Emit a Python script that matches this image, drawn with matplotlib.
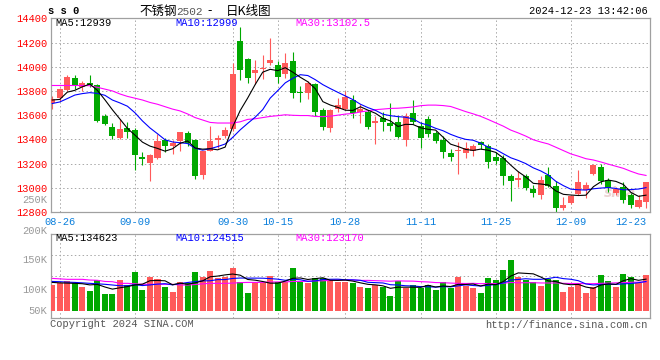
"""SS0 stainless steel 2502 daily K-line chart (Sina style): candles + MA, volume panel."""
import numpy as np
import pandas as pd
import matplotlib
matplotlib.use("Agg")
import matplotlib.pyplot as plt

W, H = 660, 360
MONO = "Liberation Mono"
CJK = ["Noto Sans CJK SC", "DejaVu Sans"]

C_UP = "#FF5A5A"
C_DN = "#00A800"
C_MA5 = "#000000"
C_MA10 = "#0000FF"
C_MA30 = "#FF00FF"
C_GRID = "#A8A8A8"
C_BOX = "#A0A0A0"

# trading days 2024-08-23 .. 2024-12-23, exchange holidays removed
HOLIDAYS = ["2024-09-16", "2024-09-17", "2024-10-01", "2024-10-02",
            "2024-10-03", "2024-10-04", "2024-10-07"]
days = pd.bdate_range("2024-08-23", "2024-12-23")
days = days[~days.isin(pd.to_datetime(HOLIDAYS))]
DATES = [d.strftime("%m-%d") for d in days]

LABEL_DATES = ["08-26", "09-09", "09-30", "10-15", "10-28",
               "11-11", "11-25", "12-09", "12-23"]

OPEN = [13697, 13738, 13805, 13905, 13835, 13865, 13845, 13590, 13505, 13412,
        13492, 13477, 13258, 13207, 13248, 13398, 13349, 13390, 13450, 13398,
        13103, 13308, 13398, 13425, 13485, 14214, 14066, 13949, 13982, 14031,
        14017, 13936, 14045, 13794, 13780, 13854, 13644, 13491, 13650, 13650,
        13723, 13628, 13627, 13535, 13575, 13534, 13545, 13397, 13616, 13507,
        13567, 13452, 13397, 13288, 13301, 13285, 13307, 13375, 13348, 13252,
        13247, 13096, 13068, 13096, 12986, 12942, 13107, 13014, 12835, 12871,
        12945, 12980, 13117, 13171, 13068, 12953, 13008, 12939, 12844, 12885]
HIGH = [13755, 13828, 13928, 13935, 13885, 13935, 13860, 13608, 13534, 13565,
        13540, 13490, 13294, 13281, 13444, 13409, 13398, 13463, 13472, 13400,
        13308, 13507, 13439, 13504, 14031, 14326, 14072, 14053, 14099, 14236,
        14045, 14113, 14121, 13840, 13881, 13867, 13655, 13650, 13745, 13800,
        13765, 13690, 13645, 13590, 13622, 13700, 13595, 13616, 13723, 13545,
        13594, 13471, 13430, 13321, 13375, 13381, 13362, 13390, 13362, 13293,
        13270, 13115, 13142, 13115, 13025, 13100, 13170, 13060, 12925, 12940,
        13144, 13048, 13199, 13199, 13081, 13008, 13048, 12953, 12939, 13050]
LOW = [13648, 13715, 13800, 13815, 13798, 13830, 13545, 13515, 13402, 13403,
       13412, 13144, 13190, 13054, 13240, 13294, 13275, 13300, 13345, 13070,
       13076, 13300, 13327, 13409, 13470, 13889, 13862, 13854, 13900, 14017,
       13867, 13908, 13744, 13712, 13731, 13590, 13480, 13458, 13627, 13645,
       13575, 13534, 13485, 13362, 13471, 13471, 13411, 13342, 13526, 13329,
       13416, 13370, 13247, 13225, 13115, 13247, 13266, 13320, 13164, 13197,
       13019, 12888, 13005, 12984, 12923, 12910, 13005, 12800, 12814, 12865,
       12939, 12912, 13103, 13035, 12967, 12939, 12871, 12836, 12836, 12830]
CLOSE = [13735, 13812, 13912, 13845, 13866, 13850, 13550, 13525, 13430, 13485,
         13463, 13272, 13235, 13267, 13390, 13349, 13371, 13458, 13368, 13098,
         13300, 13390, 13412, 13480, 13936, 13971, 13908, 13971, 13990, 14053,
         13916, 14031, 13785, 13780, 13867, 13627, 13499, 13644, 13682, 13753,
         13616, 13650, 13505, 13553, 13545, 13507, 13422, 13594, 13545, 13411,
         13444, 13390, 13299, 13258, 13312, 13326, 13348, 13353, 13211, 13225,
         13096, 13052, 13079, 12997, 12960, 13068, 13014, 12833, 12855, 12931,
         13048, 13027, 13185, 13057, 13000, 12994, 12898, 12857, 12898, 13048]
# volume, thousand lots
VOL = [110, 120, 127, 117, 103, 85, 131, 72, 72, 131,
       110, 166, 89, 145, 136, 103, 82, 124, 120, 166,
       145, 169, 139, 145, 184, 121, 78, 124, 117, 149,
       121, 121, 184, 124, 117, 139, 139, 131, 121, 124,
       117, 103, 99, 110, 103, 65, 127, 99, 110, 99,
       110, 89, 121, 99, 145, 107, 99, 78, 141, 131,
       173, 216, 145, 131, 121, 106, 134, 131, 82, 103,
       113, 78, 103, 152, 127, 103, 157, 145, 117, 152]

# MA values at the left edge (their windows start before the first bar)
MA5_HEAD = [13725, 13730, 13790, 13805]
MA10_HEAD = [13696, 13709, 13737, 13766, 13778, 13786, 13780, 13764, 13725]
MA30_HEAD = [13845, 13845, 13845, 13845, 13845, 13843, 13830, 13815, 13800, 13775,
             13755, 13740, 13725, 13705, 13690, 13670, 13650, 13635, 13610, 13580,
             13560, 13540, 13535, 13535, 13535, 13545, 13565, 13570, 13580]
VMA5_HEAD = [121, 119, 118, 117]
VMA10_HEAD = [125, 124, 122, 121, 119, 117, 115, 113, 110]
VMA30_HEAD = [138, 136, 134, 134, 134, 131, 130, 125, 124, 117,
              117, 115, 113, 113, 113, 113, 113, 110, 110, 112,
              115, 117, 117, 117, 118, 120, 121, 121, 121]

MA_TEXT = ["MA5:12939", "MA10:12999", "MA30:13102.5"]
VMA_TEXT = ["MA5:134623", "MA10:124515", "MA30:123170"]
VOL_LABELS = ["250K", "200K", "150K", "100K", "50K"]


def moving_avg(vals, n, head):
    s = pd.Series(vals, dtype=float).rolling(n).mean()
    s.iloc[:len(head)] = head
    return s.values


def fx(px):
    return px / W


def fy(py):
    return 1 - py / H


def style_box(ax):
    for sp in ax.spines.values():
        sp.set_color(C_BOX)
        sp.set_linewidth(0.9)


def main():
    x = np.arange(len(DATES))
    o, h, l, c = (np.array(a, dtype=float) for a in (OPEN, HIGH, LOW, CLOSE))
    vol = np.array(VOL, dtype=float)
    up = c > o
    colors = np.where(up, C_UP, C_DN)
    lab_idx = [DATES.index(d) for d in LABEL_DATES]
    xlim = (-0.21, len(x) - 0.47)
    dots = (0, (1.5, 2.5))

    fig = plt.figure(figsize=(W / 100, H / 100), dpi=100, facecolor="white")
    ax = fig.add_axes([fx(50.7), fy(212), fx(599.3), 193.7 / H])
    axv = fig.add_axes([fx(50.7), fy(317.7), fx(599.3), 83.4 / H])

    # ---- price panel
    for i in lab_idx[:-1]:
        ax.axvline(i, color=C_GRID, lw=0.7, ls=dots, zorder=0)
    ax.vlines(x, l, h, colors=colors, lw=0.8, zorder=2)
    body_lo = np.minimum(o, c)
    body_h = np.maximum(np.abs(c - o), 9)
    ax.bar(x, body_h, bottom=body_lo, width=0.8, color=colors, linewidth=0, zorder=3)

    ma5 = moving_avg(c, 5, MA5_HEAD)
    ma10 = moving_avg(c, 10, MA10_HEAD)
    ma30 = moving_avg(c, 30, MA30_HEAD)
    ax.plot(x, ma30, color=C_MA30, lw=0.8, zorder=4)
    ax.plot(x, ma10, color=C_MA10, lw=0.8, zorder=4)
    ax.plot(x, ma5, color=C_MA5, lw=0.8, zorder=4)

    ax.set_xlim(*xlim)
    ax.set_ylim(12800, 14400)
    ax.set_yticks(np.arange(12800, 14401, 200))
    ax.set_yticklabels([f"{v}" for v in range(12800, 14401, 200)],
                       color="#FF0000", fontfamily=MONO, fontsize=7.5)
    ax.set_xticks(lab_idx)
    ax.set_xticklabels(LABEL_DATES, color="#0A7FDC", fontfamily=MONO, fontsize=7.5)
    ax.get_xticklabels()[-1].set_horizontalalignment("right")
    ax.tick_params(axis="y", length=0, pad=2.5)
    ax.tick_params(axis="x", length=0, pad=3.5)
    ax.yaxis.grid(True, color=C_GRID, lw=0.7, ls=dots, zorder=0)
    ax.set_axisbelow(True)
    style_box(ax)

    txt = dict(fontfamily=MONO, fontsize=7.5, va="center", transform=fig.transFigure)
    for s, col, px in zip(MA_TEXT, [C_MA5, C_MA10, C_MA30], [55, 175, 295]):
        ax.text(fx(px), fy(23), s, color=col, zorder=6, **txt)
    ax.text(fx(620), fy(193), "sina", color="#EBD3D3", fontsize=10, fontweight="bold",
            fontstyle="italic", va="center", ha="center", transform=fig.transFigure,
            zorder=1)

    # ---- volume panel
    vlo, vhi = -28.4, 324.6
    for i in lab_idx[:-1]:
        axv.axvline(i, color=C_GRID, lw=0.7, ls=dots, zorder=0)
    axv.bar(x, vol, width=0.8, color=colors, linewidth=0, zorder=3)
    vma5 = moving_avg(vol, 5, VMA5_HEAD)
    vma10 = moving_avg(vol, 10, VMA10_HEAD)
    vma30 = moving_avg(vol, 30, VMA30_HEAD)
    axv.plot(x, vma30, color=C_MA30, lw=0.8, zorder=4)
    axv.plot(x, vma10, color=C_MA10, lw=0.8, zorder=4)
    axv.plot(x, vma5, color=C_MA5, lw=0.8, zorder=4)
    axv.set_xlim(*xlim)
    axv.set_ylim(vlo, vhi)
    axv.set_yticks(np.linspace(vlo, vhi, 5)[1:-1])
    axv.set_yticklabels([])
    axv.set_xticks([])
    axv.tick_params(length=0)
    axv.yaxis.grid(True, color=C_GRID, lw=0.7, ls=dots, zorder=0)
    axv.set_axisbelow(True)
    style_box(axv)

    for s, col, px in zip(VMA_TEXT, [C_MA5, C_MA10, C_MA30], [55, 175, 295]):
        axv.text(fx(px), fy(238), s, color=col, zorder=6, **txt)

    for label, py in zip(VOL_LABELS, [200, 231, 260, 290, 311]):
        fig.text(fx(47.5), fy(py), label, color="#999999", ha="right", va="center",
                 fontfamily=MONO, fontsize=7.5)

    # ---- header / footer
    fig.text(fx(48), fy(11), "s s 0", fontfamily=MONO, fontsize=7.5,
             fontweight="bold", va="center")
    fig.text(fx(139), fy(11), "不锈钢", family=CJK, fontsize=9, va="center")
    fig.text(fx(176), fy(12), "2502", fontfamily=MONO, fontsize=8, color="#555555",
             va="center")
    fig.text(fx(207), fy(11), "-", family=CJK, fontsize=9, va="center")
    fig.text(fx(226), fy(11), "日K线图", family=CJK, fontsize=9, va="center")
    fig.text(fx(648), fy(11), "2024-12-23 13:42:06", fontfamily=MONO, fontsize=7.5,
             ha="right", va="center")
    fig.text(fx(50), fy(324), "Copyright 2024 SINA.COM", fontfamily=MONO,
             fontsize=7.5, color="#555555", va="center")
    fig.text(fx(648), fy(325), "http://finance.sina.com.cn", fontfamily=MONO,
             fontsize=7.5, color="#555555", ha="right", va="center")

    fig.savefig("out.png", dpi=100, facecolor="white")
    plt.close(fig)


if __name__ == "__main__":
    main()
